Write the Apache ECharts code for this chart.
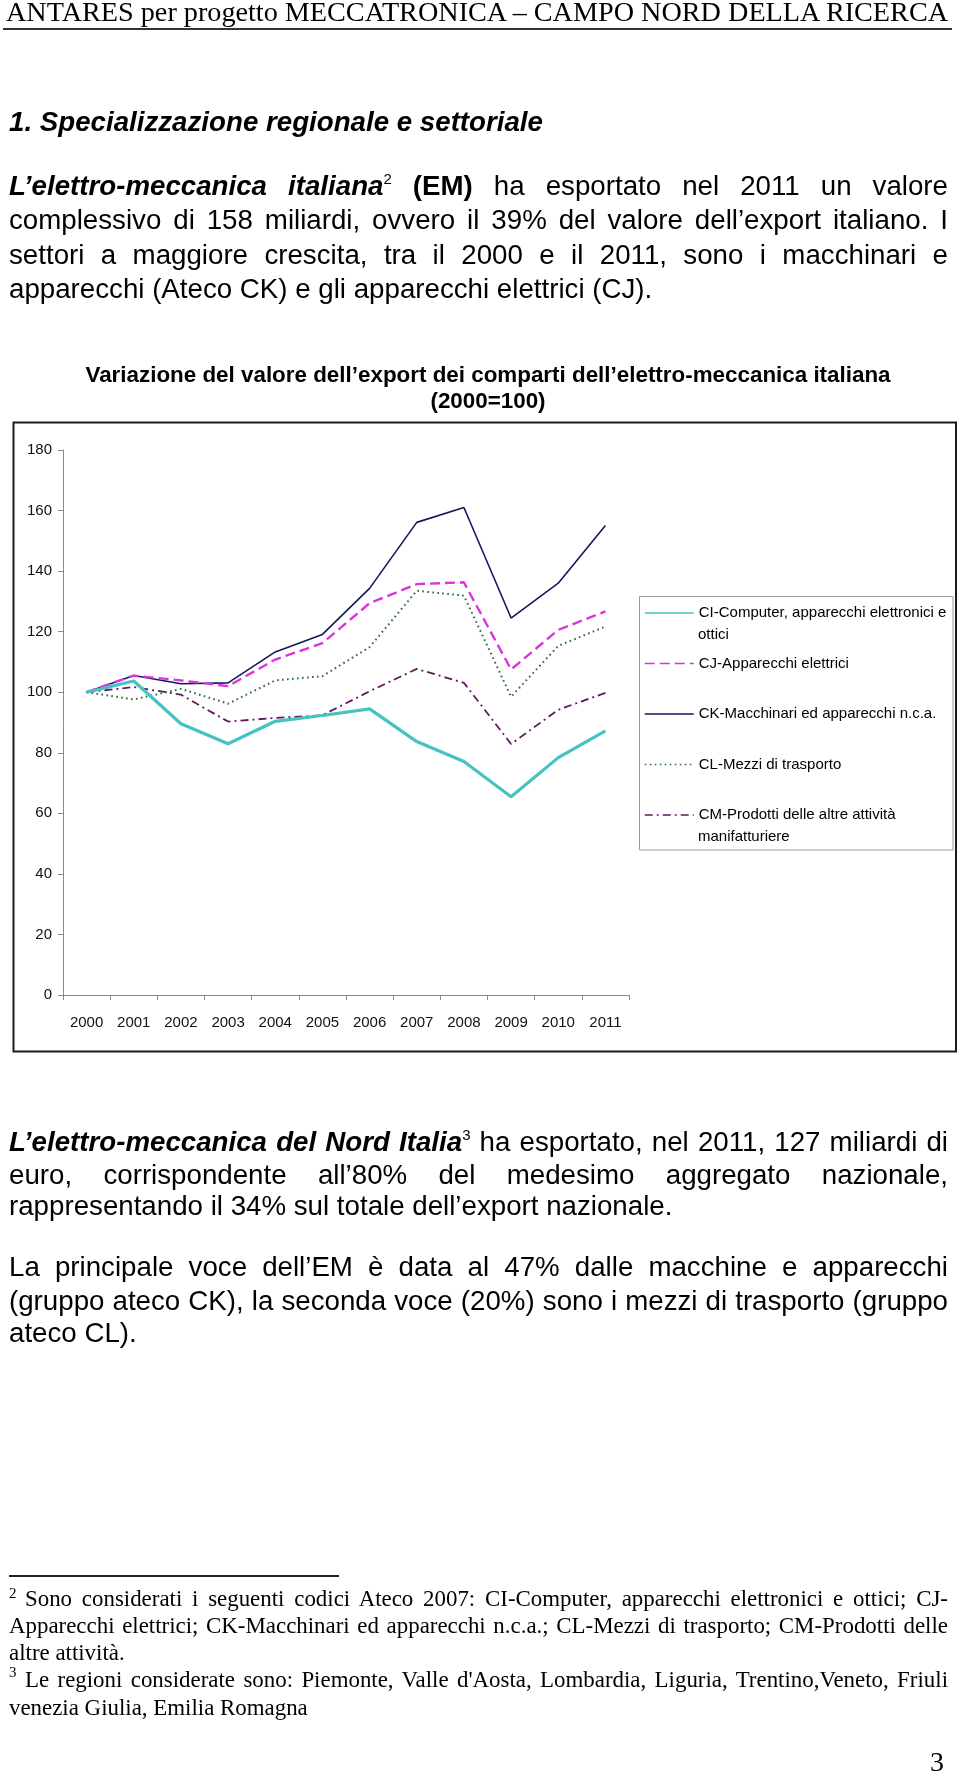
<!DOCTYPE html>
<html>
<head>
<meta charset="utf-8">
<script src="https://cdn.jsdelivr.net/npm/echarts@6/dist/echarts.min.js"></script>
<style>
  html, body { margin:0; padding:0; background:#fff; }
  #page { position:relative; width:960px; height:1773px; overflow:hidden; background:#fff; }
  #chart { position:absolute; left:0; top:0; width:960px; height:1773px; }
  .t { position:absolute; white-space:nowrap; color:#000; }
  .s { font-family:"Liberation Sans", Arial, sans-serif; font-size:27.7px; height:32px; line-height:32px; left:9px; width:939px; }
  .j { text-align:justify; text-align-last:justify; }
  .f { font-family:"Liberation Serif", "Times New Roman", serif; font-size:22.9px; height:27px; line-height:27px; left:9px; width:939px; }
  .bi { font-weight:bold; font-style:italic; }
  .b { font-weight:bold; }
  .sup { font-size:15px; position:relative; top:-11px; }
  .fsup { position:absolute; font-family:"Liberation Serif", serif; font-size:15px; line-height:15px; left:9px; }
</style>
</head>
<body>
<div id="page">
  <div id="chart"></div>

  <div class="t" style="left:6px; top:-2.5px; height:28px; line-height:28px; font-family:'Liberation Serif', serif; font-size:28.2px;">ANTARES per progetto MECCATRONICA – CAMPO NORD DELLA RICERCA</div>
  <div class="t" style="left:3px; top:28px; width:949px; height:2px; background:#333;"></div>

  <div class="t s bi" style="top:106px;">1. Specializzazione regionale e settoriale</div>

  <div class="t s j" style="top:169.5px;"><span class="bi">L’elettro-meccanica italiana</span><span class="sup">2</span> <span class="b">(EM)</span> ha esportato nel 2011 un valore</div>
  <div class="t s j" style="top:204px;">complessivo di 158 miliardi, ovvero il 39% del valore dell’export italiano. I</div>
  <div class="t s j" style="top:238.5px;">settori a maggiore crescita, tra il 2000 e il 2011, sono i macchinari e</div>
  <div class="t s" style="top:273px;">apparecchi (Ateco CK) e gli apparecchi elettrici (CJ).</div>

  <div class="t s j" style="top:1126px;"><span class="bi">L’elettro-meccanica del Nord Italia</span><span class="sup">3</span> ha esportato, nel 2011, 127 miliardi di</div>
  <div class="t s j" style="top:1158.5px;">euro, corrispondente all’80% del medesimo aggregato nazionale,</div>
  <div class="t s" style="top:1190px;">rappresentando il 34% sul totale dell’export nazionale.</div>

  <div class="t s j" style="top:1251px;">La principale voce dell’EM è data al 47% dalle macchine e apparecchi</div>
  <div class="t s j" style="top:1284.5px;">(gruppo ateco CK), la seconda voce (20%) sono i mezzi di trasporto (gruppo</div>
  <div class="t s" style="top:1316.5px;">ateco CL).</div>

  <div class="t" style="left:9px; top:1575px; width:330px; height:2px; background:#222;"></div>
  <div class="t fsup" style="top:1586px;">2</div>
  <div class="t f j" style="top:1585px; left:25px; width:923px;">Sono considerati i seguenti codici Ateco 2007: CI-Computer, apparecchi elettronici e ottici; CJ-</div>
  <div class="t f j" style="top:1612px;">Apparecchi elettrici; CK-Macchinari ed apparecchi n.c.a.; CL-Mezzi di trasporto; CM-Prodotti delle</div>
  <div class="t f" style="top:1639px;">altre attività.</div>
  <div class="t fsup" style="top:1665px;">3</div>
  <div class="t f j" style="top:1666px; left:25px; width:923px;">Le regioni considerate sono: Piemonte, Valle d'Aosta, Lombardia, Liguria, Trentino,Veneto, Friuli</div>
  <div class="t f" style="top:1693.5px;">venezia Giulia, Emilia Romagna</div>

  <div class="t" style="left:930px; top:1748px; height:28px; line-height:28px; font-family:'Liberation Serif', serif; font-size:28px;">3</div>
</div>

<script>
// ---- data ----
var years = ['2000','2001','2002','2003','2004','2005','2006','2007','2008','2009','2010','2011'];
var seriesNames = [
  'CI-Computer, apparecchi elettronici e ottici',
  'CJ-Apparecchi elettrici',
  'CK-Macchinari ed apparecchi n.c.a.',
  'CL-Mezzi di trasporto',
  'CM-Prodotti delle altre attività manifatturiere'
];
var legendFirstLines = [
  'CI-Computer, apparecchi elettronici e',
  'CJ-Apparecchi elettrici',
  'CK-Macchinari ed apparecchi n.c.a.',
  'CL-Mezzi di trasporto',
  'CM-Prodotti delle altre attività'
];
var legendSecondLines = ['ottici', '', '', '', 'manifatturiere'];
var valuesCI = [100, 103.7, 89.6, 83.0, 90.4, 92.3, 94.5, 83.7, 77.1, 65.5, 78.4, 87.2];
var valuesCJ = [100, 105.5, 103.9, 102.0, 110.8, 116.2, 129.4, 135.7, 136.3, 107.5, 120.6, 126.7];
var valuesCK = [100, 105.5, 102.8, 103.1, 113.3, 119.1, 134.3, 156.1, 161.0, 124.5, 136.0, 155.1];
var valuesCL = [100, 97.6, 101.1, 96.2, 103.9, 105.3, 114.9, 133.5, 131.9, 98.5, 115.3, 121.7];
var valuesCM = [100, 101.7, 99.2, 90.3, 91.5, 92.4, 100.3, 107.7, 103.1, 82.9, 94.2, 99.8];
var chartTitle = 'Variazione del valore dell’export dei comparti dell’elettro-meccanica italiana\n(2000=100)';

// ---- styles ----
var FONT = '"Liberation Sans", Arial, sans-serif';
var seriesValues = [valuesCI, valuesCJ, valuesCK, valuesCL, valuesCM];
var seriesStyles = [
  {color:'#45C2C2', width:3.2, type:'solid'},
  {color:'#DD33DD', width:2.4, type:[10,5]},
  {color:'#17175F', width:1.6, type:'solid'},
  {color:'#2E6B3A', width:2.0, type:[1.6,3.4]},
  {color:'#5E1A5E', width:1.8, type:[8,4,2,4]}
];

var chart = echarts.init(document.getElementById('chart'), null, {renderer:'canvas'});

var nameToFirst = {};
seriesNames.forEach(function(n, i){ nameToFirst[n] = legendFirstLines[i]; });

var series = seriesNames.map(function(n, i){
  return {
    name: n, type: 'line', data: seriesValues[i],
    symbol: 'none', silent: true,
    color: seriesStyles[i].color,
    lineStyle: {color: seriesStyles[i].color, width: seriesStyles[i].width, type: seriesStyles[i].type},
    z: 5 - i
  };
});

var graphics = [
  {type:'rect', shape:{x:13.5, y:422.5, width:942.5, height:629}, style:{fill:'none', stroke:'#1a1a1a', lineWidth:2}, z:0},
  {type:'rect', shape:{x:639.5, y:596.5, width:313.5, height:253.5}, style:{fill:'#fff', stroke:'#9a9a9a', lineWidth:1}, z:1}
];
var legendCenters = [613, 663.5, 714, 764, 815];
legendSecondLines.forEach(function(t, i){
  if (t) {
    graphics.push({type:'text', z:10, style:{text:t, x:698, y:legendCenters[i] + 21.5, fill:'#000',
      font:'15px ' + FONT, verticalAlign:'middle', textVerticalAlign:'middle'}});
  }
});

chart.setOption({
  animation: false,
  backgroundColor: 'transparent',
  title: {
    text: chartTitle, left: 488, textAlign: 'center', top: 363, padding: 0,
    textStyle: {fontFamily: FONT, fontSize: 22.4, fontWeight: 'bold', lineHeight: 26, color: '#000'}
  },
  grid: {left: 63, top: 450, width: 566, height: 545, containLabel: false},
  xAxis: {
    type: 'category', data: years, boundaryGap: true,
    axisLine: {lineStyle: {color: '#8a8a8a', width: 1}},
    axisTick: {show: true, length: 5, lineStyle: {color: '#8a8a8a'}},
    axisLabel: {fontFamily: FONT, fontSize: 15, color: '#111', margin: 20},
    splitLine: {show: false}
  },
  yAxis: {
    type: 'value', min: 0, max: 180, interval: 20,
    axisLine: {show: true, lineStyle: {color: '#8a8a8a', width: 1}},
    axisTick: {show: true, length: 5, lineStyle: {color: '#8a8a8a'}},
    axisLabel: {fontFamily: FONT, fontSize: 15, color: '#111', margin: 11},
    splitLine: {show: false}
  },
  legend: {
    orient: 'vertical', left: 639, top: 604, padding: [0, 0, 0, 5],
    itemWidth: 49, itemHeight: 1, itemGap: 32.5,
    selectedMode: false, z: 10,
    itemStyle: {opacity: 0},
    textStyle: {fontFamily: FONT, fontSize: 15, color: '#000', lineHeight: 18},
    formatter: function(name){ return nameToFirst[name]; },
    data: seriesNames.map(function(n, i){
      return {name: n, lineStyle: {width: 1.5, opacity: 1}};
    })
  },
  graphic: graphics,
  series: series
});
</script>
</body>
</html>
